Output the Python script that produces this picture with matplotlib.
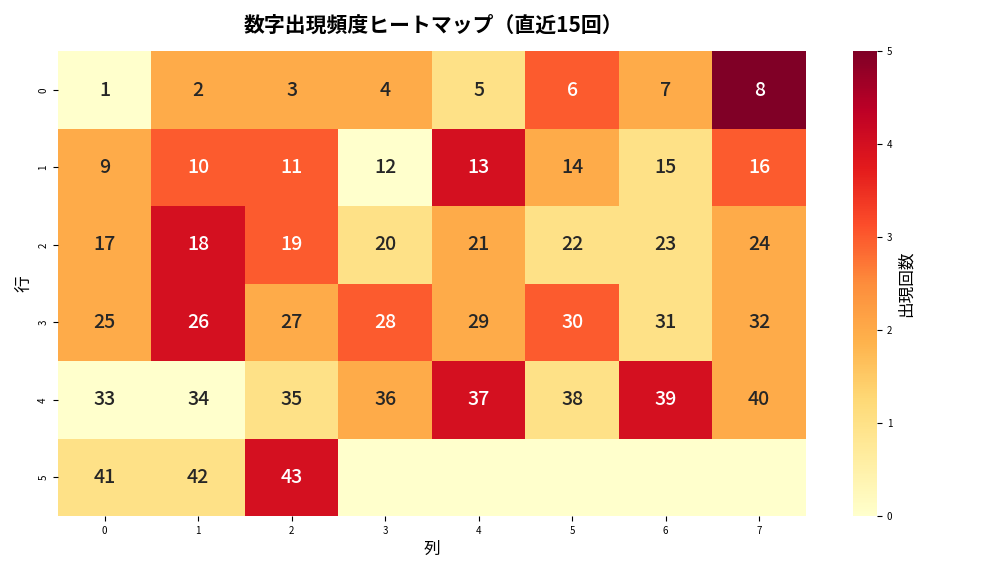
import numpy as np
import matplotlib
matplotlib.use("Agg")
import matplotlib.pyplot as plt
import seaborn as sns

plt.rcParams['font.family'] = ['Noto Sans CJK JP', 'DejaVu Sans']

counts = [
    [0, 2, 2, 2, 1, 3, 2, 5],
    [2, 3, 3, 0, 4, 2, 1, 3],
    [2, 4, 3, 1, 2, 1, 1, 2],
    [2, 4, 2, 3, 2, 3, 1, 2],
    [0, 0, 1, 2, 4, 1, 4, 2],
    [1, 1, 4, 0, 0, 0, 0, 0],
]
numbers = list(range(1, 44))

data = np.array(counts)
labels = np.full(data.shape, "", dtype=object)
for i, n in enumerate(numbers):
    labels[i // 8, i % 8] = str(n)

fig = plt.figure(figsize=(10.08, 5.76), dpi=100)
ax = fig.add_axes([0.0575, 0.104, 0.742, 0.807])
cax = fig.add_axes([0.846, 0.104, 0.024, 0.807])
sns.heatmap(data, ax=ax, cbar_ax=cax, cmap='YlOrRd', vmin=0, vmax=5,
            annot=labels, fmt='', annot_kws={'size': 14, 'weight': 'medium'})
cax.set_ylabel('出現回数', fontsize=12)
cax.tick_params(labelsize=7)
ax.tick_params(labelsize=7)
ax.set_xlabel('列', fontsize=12)
ax.set_ylabel('行', fontsize=12)
fig.suptitle('数字出現頻度ヒートマップ（直近15回）', fontsize=15, weight='bold', x=0.43, y=0.975)
fig.savefig('out.png', dpi=100)
